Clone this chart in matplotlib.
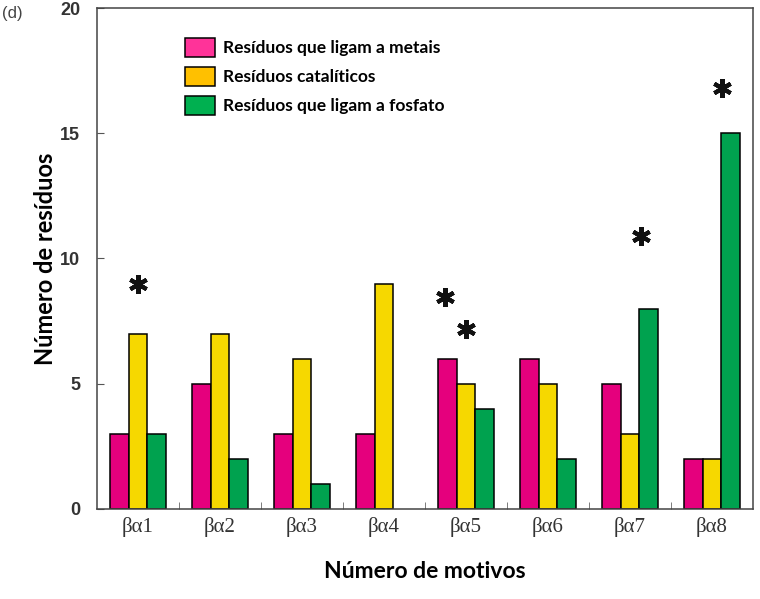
import numpy as np
import matplotlib.pyplot as plt
from matplotlib.patches import Patch
from matplotlib.ticker import FixedLocator

motifs = ["βα1", "βα2", "βα3", "βα4", "βα5", "βα6", "βα7", "βα8"]
metal = [3, 5, 3, 3, 6, 6, 5, 2]
catalytic = [7, 7, 6, 9, 5, 5, 3, 2]
phosphate = [3, 2, 1, 0, 4, 2, 8, 15]
series_names = ["Resíduos que ligam a metais", "Resíduos catalíticos",
                "Resíduos que ligam a fosfato"]

# significance stars (x in motif units, y in residues)
stars_x = [0.0, 3.75, 4.0, 6.14, 7.12]
stars_y = [9.0, 8.45, 7.2, 10.9, 16.8]

bar_colors = ["#E5007D", "#F6D800", "#00A24F"]
legend_colors = ["#FF3399", "#FFC000", "#00B050"]

fig = plt.figure(figsize=(7.6, 5.99), dpi=100)
ax = fig.add_axes([0.1276, 0.1503, 0.8632, 0.8363])

x = np.arange(len(motifs))
w = 0.225
for i, vals in enumerate([metal, catalytic, phosphate]):
    bars = ax.bar(x + (i - 1) * w, vals, w, color=bar_colors[i],
                  edgecolor="black", linewidth=1.1, zorder=2)
    # empty bars are not drawn at all in the original
    for b, v in zip(bars, vals):
        if v == 0:
            b.set_visible(False)

ax.plot(stars_x, stars_y, linestyle="none", marker=(6, 2, 0), markersize=13.5,
        markeredgewidth=3.0, color="#111111")

ax.set_xlim(-0.5, 7.5)
ax.set_ylim(0, 20)
ax.set_yticks([0, 5, 10, 15, 20])
ax.set_xticks(x)
ax.set_xticklabels(motifs, family="Liberation Serif", fontsize=15, color="#333333")
ax.xaxis.set_minor_locator(FixedLocator(np.arange(0.5, 7.5, 1)))
ax.tick_params(axis="x", which="major", length=0, pad=6)
ax.tick_params(axis="x", which="minor", direction="in", length=5, color="#666666")
ax.tick_params(axis="y", direction="in", length=5, color="#555555", pad=12)
for lab in ax.get_yticklabels():
    lab.set_family("Liberation Sans")
    lab.set_fontweight("bold")
    lab.set_fontsize(13)
    lab.set_color("#333333")
for sp in ax.spines.values():
    sp.set_color("#444444")
    sp.set_linewidth(1.1)

ax.set_xlabel("Número de motivos", family="Lato", fontweight="bold", fontsize=16.5,
              labelpad=17)
ax.set_ylabel("Número de resíduos", family="Lato", fontweight="bold", fontsize=17,
              labelpad=2)

handles = [Patch(facecolor=c, edgecolor="black", linewidth=1.1) for c in legend_colors]
leg = ax.legend(handles, series_names, loc="upper left", bbox_to_anchor=(0.11, 0.972),
                frameon=False, handlelength=1.75, handleheight=1.3, handletextpad=0.45,
                labelspacing=0.58, prop={"family": "Lato", "weight": "bold", "size": 12.5})

fig.text(0.003, 0.977, "(d)", fontsize=12, color="#444444", family="Liberation Sans",
         va="center")

fig.savefig("out.png", dpi=100, facecolor="white")
